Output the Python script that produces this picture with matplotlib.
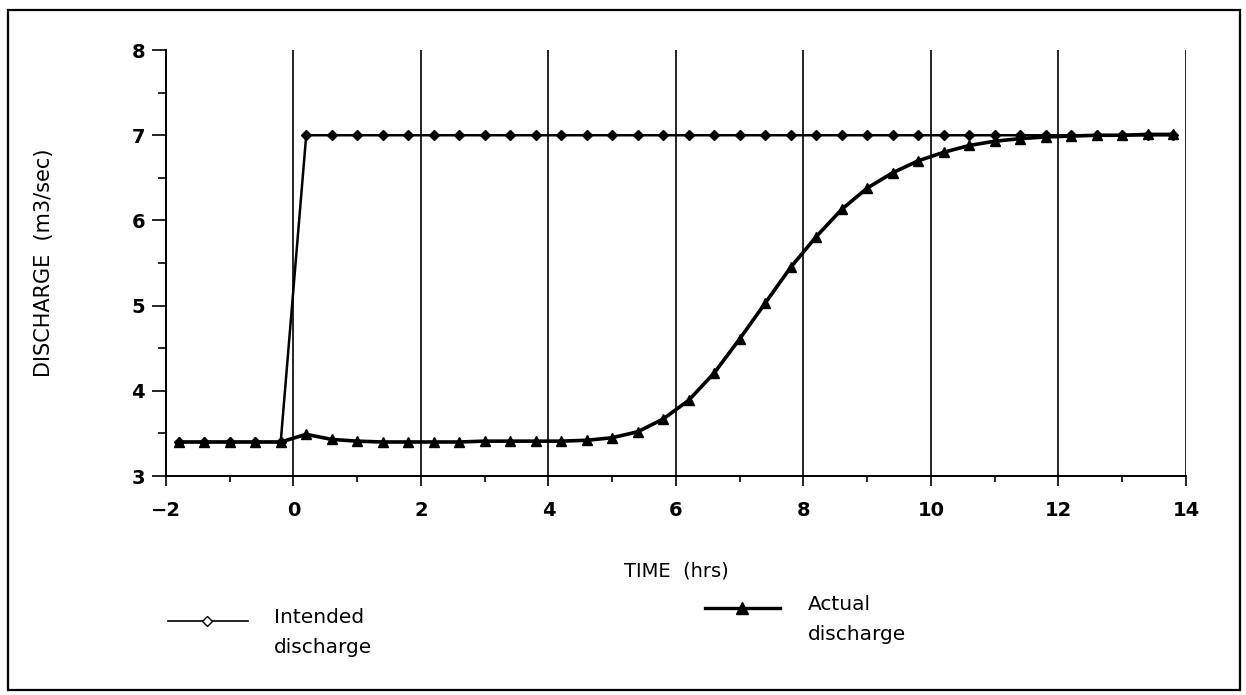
import matplotlib
matplotlib.use("Agg")
import matplotlib.pyplot as plt
from matplotlib.lines import Line2D
from matplotlib.patches import Rectangle
from matplotlib.ticker import MultipleLocator

# time (hrs), sampled every 0.4 h
time_hrs = [-1.8, -1.4, -1.0, -0.6, -0.2, 0.2, 0.6, 1.0, 1.4, 1.8,
            2.2, 2.6, 3.0, 3.4, 3.8, 4.2, 4.6, 5.0, 5.4, 5.8,
            6.2, 6.6, 7.0, 7.4, 7.8, 8.2, 8.6, 9.0, 9.4, 9.8,
            10.2, 10.6, 11.0, 11.4, 11.8, 12.2, 12.6, 13.0, 13.4, 13.8]

intended = [3.40, 3.40, 3.40, 3.40, 3.40, 7.00, 7.00, 7.00, 7.00, 7.00,
            7.00, 7.00, 7.00, 7.00, 7.00, 7.00, 7.00, 7.00, 7.00, 7.00,
            7.00, 7.00, 7.00, 7.00, 7.00, 7.00, 7.00, 7.00, 7.00, 7.00,
            7.00, 7.00, 7.00, 7.00, 7.00, 7.00, 7.00, 7.00, 7.00, 7.00]

actual = [3.40, 3.40, 3.40, 3.40, 3.40, 3.49, 3.43, 3.41, 3.40, 3.40,
          3.40, 3.40, 3.41, 3.41, 3.41, 3.41, 3.42, 3.45, 3.52, 3.67,
          3.89, 4.21, 4.61, 5.03, 5.45, 5.81, 6.13, 6.38, 6.56, 6.70,
          6.80, 6.88, 6.93, 6.96, 6.98, 6.99, 7.00, 7.00, 7.01, 7.01]

x_ticks = [-2, 0, 2, 4, 6, 8, 10, 12, 14]
y_ticks = [3, 4, 5, 6, 7, 8]

fig = plt.figure(figsize=(12.46, 6.95), dpi=100)
ax = fig.add_axes([0.1332, 0.315, 0.8186, 0.613])

ax.plot(time_hrs, intended, color='k', lw=1.8, marker='D', ms=5,
        mfc='k', mec='k', zorder=3, clip_on=False)
ax.plot(time_hrs, actual, color='k', lw=2.6, marker='^', ms=7.5,
        mfc='k', mec='k', zorder=4, clip_on=False)

ax.set_xlim(-2, 14)
ax.set_ylim(3, 8)
ax.set_xticks(x_ticks)
ax.set_yticks(y_ticks)
ax.xaxis.set_minor_locator(MultipleLocator(1))
ax.yaxis.set_minor_locator(MultipleLocator(0.5))

ax.grid(axis='x', which='major', color='k', lw=1.2)
ax.spines['top'].set_visible(False)
ax.spines['right'].set_visible(False)
ax.spines['left'].set_linewidth(1.4)
ax.spines['bottom'].set_linewidth(1.4)

ax.tick_params(axis='x', which='major', direction='out', length=7, width=1.2,
               pad=11, labelsize=14)
ax.tick_params(axis='x', which='minor', direction='out', length=4, width=1.2)
ax.tick_params(axis='y', which='major', direction='out', length=10, width=1.2,
               pad=5, labelsize=14)
ax.tick_params(axis='y', which='minor', direction='out', length=6, width=1.2)
for lab in ax.get_xticklabels() + ax.get_yticklabels():
    lab.set_fontweight('bold')

ax.set_xlabel('TIME  (hrs)', fontsize=14, labelpad=30)
ax.set_ylabel('DISCHARGE  (m3/sec)', fontsize=15, labelpad=56)

# legend drawn below the x label
W, H = 1246, 695
def fx(px):
    return px / W
def fy(py):
    return 1 - py / H

fig.add_artist(Line2D([fx(168), fx(207), fx(248)], [fy(621)] * 3,
                      transform=fig.transFigure, color='k', lw=1.2,
                      marker='D', ms=5, mfc='white', mec='k', markevery=[1]))
fig.text(fx(274), fy(608), 'Intended\ndischarge', fontsize=14.5,
         va='top', ha='left', linespacing=1.75, transform=fig.transFigure)

fig.add_artist(Line2D([fx(705), fx(742), fx(780)], [fy(608)] * 3,
                      transform=fig.transFigure, color='k', lw=2.4,
                      marker='^', ms=8, mfc='k', mec='k', markevery=[1]))
fig.text(fx(808), fy(595), 'Actual\ndischarge', fontsize=14.5,
         va='top', ha='left', linespacing=1.75, transform=fig.transFigure)

# outer frame around the whole figure
fig.add_artist(Rectangle((fx(8), fy(690)), fx(1240) - fx(8), fy(10) - fy(690),
                         transform=fig.transFigure, fill=False,
                         edgecolor='k', lw=1.6))

fig.savefig('out.png', dpi=100)
